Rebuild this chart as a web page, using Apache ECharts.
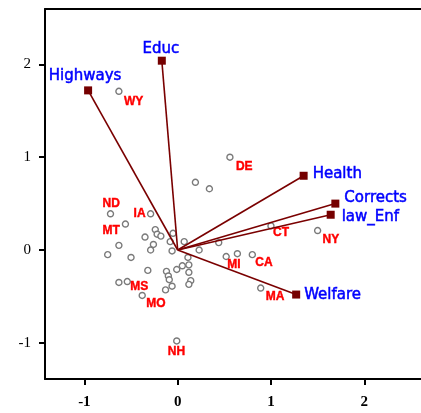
<!DOCTYPE html>
<html><head><meta charset="utf-8">
<script src="https://cdn.jsdelivr.net/npm/echarts@6/dist/echarts.min.js"></script>
<style>html,body{margin:0;padding:0;background:#fff}#c{width:421px;height:413px}</style>
</head><body><div id="c"></div>
<script>
// ---- data ----
const stateNames = ['WY','DE','','','ND','IA','MT','','','','','','','','','','','','','','','','','','','','','','','','','','','','','','MS','MO','MI','','CA','MA','NH','CT','NY'];
const stateX = [-0.63,0.56,0.19,0.34,-0.72,-0.29,-0.56,-0.24,-0.22,-0.18,-0.35,-0.05,-0.08,-0.26,-0.29,-0.63,-0.75,-0.50,-0.06,0.07,0.23,0.44,0.11,0.12,0.05,-0.01,0.12,-0.12,-0.10,-0.09,0.14,0.12,-0.06,-0.13,-0.32,-0.63,-0.54,-0.38,0.52,0.64,0.80,0.89,-0.01,1.00,1.50];
const stateY = [1.71,1.00,0.73,0.66,0.39,0.39,0.28,0.22,0.17,0.15,0.14,0.18,0.09,0.06,0.00,0.05,-0.05,-0.08,-0.01,0.09,0.00,0.08,-0.08,-0.16,-0.17,-0.21,-0.24,-0.23,-0.28,-0.32,-0.33,-0.37,-0.39,-0.43,-0.22,-0.35,-0.34,-0.49,-0.07,-0.04,-0.05,-0.41,-0.98,0.26,0.21];
const varNames = ['Highways','Educ','Health','Corrects','law_Enf','Welfare'];
const varX = [-0.96,-0.17,1.35,1.69,1.64,1.27];
const varY = [1.72,2.04,0.80,0.50,0.38,-0.48];
const xTicks = [-1,0,1,2];
const yTicks = [-1,0,1,2];

// ---- layout (label placement) ----
const stateLabelOffset = {WY:[5,4],DE:[6,3],CT:[2,1],NY:[5,3],MI:[1,2],CA:[3,2],MA:[5,3],MO:[4,2],MS:[3,-1],ND:[-8,-16],IA:[-17,-6],MT:[-23,1],NH:[-9,5]};
const varLabelStyle = {
  Highways:{align:'center',offset:[-3,-14]},
  Educ:{align:'center',offset:[-1,-12]},
  Health:{align:'left',offset:[9,-2]},
  Corrects:{align:'left',offset:[9,-5]},
  law_Enf:{align:'left',offset:[11,2]},
  Welfare:{align:'left',offset:[8,1]}
};

const chart = echarts.init(document.getElementById('c'), null, {renderer:'canvas'});

const statePoints = stateNames.map((n,i)=>{
  const o = stateLabelOffset[n];
  const d = {name:n, value:[stateX[i], stateY[i]]};
  if (n && o) d.label = {show:true, offset:o};
  return d;
});

const vectorSeries = varNames.map((n,i)=>({
  type:'line', data:[[0,0],[varX[i],varY[i]]], showSymbol:false, symbol:'none',
  lineStyle:{color:'#7a0000', width:1.6, opacity:1}, z:3, silent:true
}));

const varPoints = varNames.map((n,i)=>({
  name:n, value:[varX[i],varY[i]],
  label:{show:true, align:varLabelStyle[n].align, verticalAlign:'middle', offset:varLabelStyle[n].offset}
}));

const xmin = -1.422, xmax = 2.608, ymin = -1.39, ymax = 2.597;
const lineBlack = {color:'#000', width:2};

chart.setOption({
  animation:false,
  backgroundColor:'#fff',
  grid:{left:45, top:9, right:0, bottom:34},
  xAxis:[{type:'value', min:xmin, max:xmax, position:'bottom',
    axisLine:{show:true, onZero:false, lineStyle:lineBlack},
    axisTick:{show:true, length:6, customValues:xTicks, lineStyle:lineBlack},
    axisLabel:{customValues:xTicks, margin:16, color:'#000', fontFamily:'Liberation Serif', fontSize:15, fontWeight:'bold', formatter:v=>String(v)},
    splitLine:{show:false}},
   {type:'value', min:xmin, max:xmax, position:'top',
    axisLine:{show:true, onZero:false, lineStyle:lineBlack},
    axisTick:{show:false}, axisLabel:{show:false}, splitLine:{show:false}}],
  yAxis:{type:'value', min:ymin, max:ymax,
    axisLine:{show:true, onZero:false, lineStyle:lineBlack},
    axisTick:{show:true, length:6, customValues:yTicks, lineStyle:lineBlack},
    axisLabel:{customValues:yTicks, margin:14, color:'#000', fontFamily:'Liberation Serif', fontSize:15, formatter:v=>String(v)},
    splitLine:{show:false}},
  series:[
    {type:'scatter', data:statePoints, symbol:'circle', symbolSize:6, z:2,
      itemStyle:{color:'#fff', borderColor:'#7a7a7a', borderWidth:1.4, opacity:1},
      label:{show:false, position:'inside', align:'left', verticalAlign:'top', color:'#ff0000', fontFamily:'Liberation Sans', fontWeight:'bold', fontSize:12, textBorderColor:'#ff0000', textBorderWidth:0.4, formatter:p=>p.name},
      emphasis:{disabled:true}},
    ...vectorSeries,
    {type:'scatter', data:varPoints, symbol:'rect', symbolSize:8, z:4,
      itemStyle:{color:'#750000', opacity:1},
      label:{position:'inside', color:'#0000ff', fontFamily:'DejaVu Sans', fontSize:15, textBorderColor:'#0000ff', textBorderWidth:0.5, formatter:p=>p.name},
      emphasis:{disabled:true}}
  ]
});
</script>
</body></html>
